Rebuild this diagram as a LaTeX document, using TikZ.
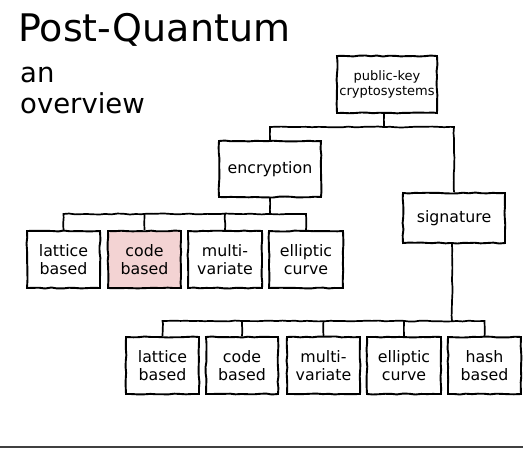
\documentclass[tikz,border=0pt]{standalone}
\usepackage{fontspec}
\setmainfont{DejaVu Sans}
\usetikzlibrary{decorations.pathmorphing}
\definecolor{pinkfill}{HTML}{F3D3D3}
\definecolor{rulegray}{HTML}{404040}
\begin{document}
\begin{tikzpicture}[x=1pt,y=-1pt,
  sketch/.style={decorate,decoration={random steps,segment length=6pt,amplitude=0.5pt}},
  box/.style={draw,sketch,line width=1.9pt,inner sep=0pt,align=center,
    font=\fontsize{15.8}{18.5}\selectfont},
  leaf/.style={box,minimum width=73pt,minimum height=57pt},
  conn/.style={draw,sketch,line width=1.7pt},
  hl/.style={fill=pinkfill}]
\pgfmathsetseed{7}
\useasboundingbox (0,0) rectangle (523,448);
% titles
\node[anchor=base west,inner sep=0pt,font=\fontsize{38}{44}\selectfont] (title) at (18,41) {Post-Quantum};
\node[anchor=base west,inner sep=0pt,font=\fontsize{27.5}{31}\selectfont] (an) at (20,82) {an};
\node[anchor=base west,inner sep=0pt,font=\fontsize{27.5}{31}\selectfont] (ov) at (20,113) {overview};
% nodes
\node[box,minimum width=100pt,minimum height=57pt,font=\fontsize{13}{14.5}\selectfont] (pk) at (387,84.5) {public-key\\cryptosystems};
\node[box,minimum width=102pt,minimum height=56pt] (enc) at (270,169) {encryption};
\node[box,minimum width=102pt,minimum height=50pt] (sig) at (454,218) {signature};
\node[leaf] (el) at (63.5,259.5) {lattice\\based};
\node[leaf,hl] (ec) at (144.5,259.5) {code\\based};
\node[leaf,minimum width=74pt] (em) at (225,259.5) {multi-\\variate};
\node[leaf,minimum width=74pt] (ee) at (306,259.5) {elliptic\\curve};
\node[leaf] (sl) at (162.5,365.5) {lattice\\based};
\node[leaf,minimum width=72pt] (sc) at (242,365.5) {code\\based};
\node[leaf] (sm) at (323.5,365.5) {multi-\\variate};
\node[leaf,minimum width=74pt] (se) at (404,365.5) {elliptic\\curve};
\node[leaf] (sh) at (484.5,365.5) {hash\\based};
% bus coordinates
\coordinate (j1) at (384,127);
\coordinate (j2) at (270,214);
\coordinate (j3) at (452,321);
% connectors level 1
\path[conn] (pk.south -| j1) -- (j1);
\path[conn] (enc.north) -- (enc.north |- j1) -- (sig.north |- j1) -- (sig.north);
% connectors level 2
\path[conn] (enc.south) -- (j2);
\path[conn] (el.north) -- (el.north |- j2) -- (ee.north |- j2) -- (ee.north);
\path[conn] (ec.north) -- (ec.north |- j2);
\path[conn] (em.north) -- (em.north |- j2);
% connectors level 3
\path[conn] (sig.south -| j3) -- (j3);
\path[conn] (sl.north) -- (sl.north |- j3) -- (sh.north |- j3) -- (sh.north);
\path[conn] (sc.north) -- (sc.north |- j3);
\path[conn] (sm.north) -- (sm.north |- j3);
\path[conn] (se.north) -- (se.north |- j3);
% bottom rule
\coordinate (rl) at (0,447);
\coordinate (rr) at (523,447);
\draw[rulegray,line width=1.5pt] (rl) -- (rr);
\end{tikzpicture}
\end{document}
